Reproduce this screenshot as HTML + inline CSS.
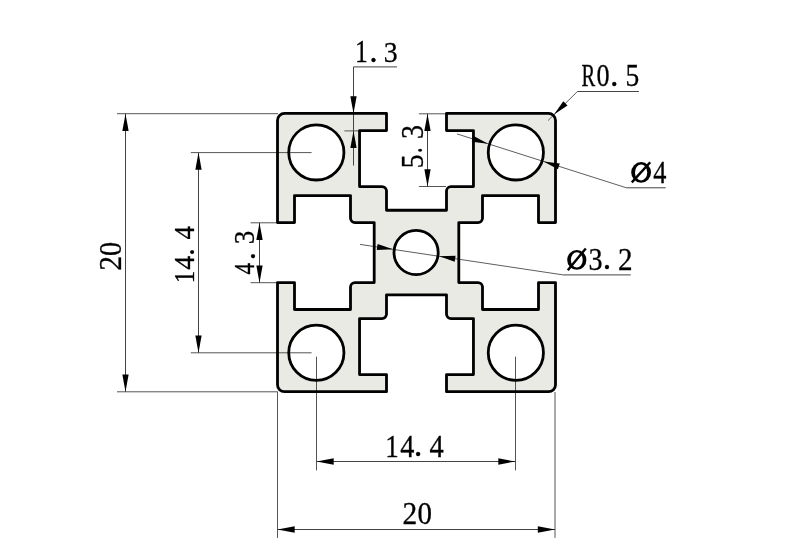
<!DOCTYPE html>
<html><head><meta charset="utf-8"><title>Aluminium profile 2020</title><style>
html,body{margin:0;padding:0;background:#fff;}
svg{display:block;will-change:transform;}
.pf{fill:#eaeae5;stroke:none;}
.hf{fill:#fff;stroke:none;}
.ps{fill:none;stroke:#000;stroke-width:2.8;stroke-linejoin:round;}
.ln{stroke:#444;stroke-width:1;fill:none;}
.ex{stroke:#555;stroke-width:1;fill:none;}
.ld{stroke:#555;stroke-width:0.95;fill:none;}
.ar{fill:#000;stroke:none;}
.tx{font-family:"Liberation Serif",serif;fill:#000;stroke:#000;stroke-width:0.3;}
</style></head><body>
<svg width="804" height="557" viewBox="0 0 804 557">
<path class="pf" d="M284.5 113.4 H386.5 V130.55 H359.55 V186.55 H382 A4.5 4.5 0 0 1 386.5 191.05 V210.25 H446.5 V191.05 A4.5 4.5 0 0 1 451 186.55 H473.45 V130.55 H446.5 V113.4 H548.5 A7 7 0 0 1 555.5 120.4 V222.55 H538.5 V195.6 H482.5 V218.05 A4.5 4.5 0 0 1 478 222.55 H458.8 V282.55 H478 A4.5 4.5 0 0 1 482.5 287.05 V309.5 H538.5 V282.55 H555.5 V384.7 A7 7 0 0 1 548.5 391.7 H446.5 V374.55 H473.45 V318.55 H451 A4.5 4.5 0 0 1 446.5 314.05 V294.85 H386.5 V314.05 A4.5 4.5 0 0 1 382 318.55 H359.55 V374.55 H386.5 V391.7 H284.5 A7 7 0 0 1 277.5 384.7 V282.55 H294.5 V309.5 H350.5 V287.05 A4.5 4.5 0 0 1 355 282.55 H374.2 V222.55 H355 A4.5 4.5 0 0 1 350.5 218.05 V195.6 H294.5 V222.55 H277.5 V120.4 A7 7 0 0 1 284.5 113.4 Z"/><circle class="hf" cx="316.35" cy="152.4" r="27.6"/><circle class="hf" cx="515.85" cy="152.4" r="27.6"/><circle class="hf" cx="316.35" cy="352.8" r="27.6"/><circle class="hf" cx="515.85" cy="352.8" r="27.6"/><circle class="hf" cx="416.1" cy="252.5" r="22.1"/>
<path class="ex" d="M117 113.7 L278 113.7"/>
<path class="ex" d="M117 391.8 L278 391.8"/>
<path class="ex" d="M190.8 152.6 L311.6 152.6"/>
<path class="ex" d="M190.8 352.8 L311.6 352.8"/>
<path class="ex" d="M250.6 222.8 L278 222.8"/>
<path class="ex" d="M250.6 282.7 L278 282.7"/>
<path class="ex" d="M344.4 130.9 L359 130.9"/>
<path class="ex" d="M418.9 113.8 L446 113.8"/>
<path class="ex" d="M418.9 186.5 L446 186.5"/>
<path class="ex" d="M316.5 356.6 L316.5 470.4"/>
<path class="ex" d="M515.5 356.6 L515.5 470.4"/>
<path class="ex" d="M277.5 392 L277.5 537.9"/>
<path class="ex" d="M555 392 L555 537.9"/>
<path class="ln" d="M125.5 113.7 L125.5 391.8"/>
<path class="ln" d="M198.5 152.6 L198.5 352.8"/>
<path class="ln" d="M259.5 222.8 L259.5 282.7"/>
<path class="ln" d="M353.5 66.9 L397 66.9"/>
<path class="ln" d="M353.5 66.9 L353.5 165.5"/>
<path class="ln" d="M427.5 113.8 L427.5 186.5"/>
<path class="ln" d="M316.5 461.5 L515.5 461.5"/>
<path class="ln" d="M277.5 529.5 L555 529.5"/>
<path class="ld" d="M548 120.6 L577.4 91.5"/>
<path class="ln" d="M577.4 91.5 L638.9 91.5"/>
<path class="ld" d="M457 133.9 L626.4 187.8"/>
<path class="ln" d="M626.4 187.8 L665.7 187.8"/>
<path class="ld" d="M360 244.4 L563.1 274.9"/>
<path class="ln" d="M563.1 274.9 L630.7 274.9"/>
<path class="ps" d="M284.5 113.4 H386.5 V130.55 H359.55 V186.55 H382 A4.5 4.5 0 0 1 386.5 191.05 V210.25 H446.5 V191.05 A4.5 4.5 0 0 1 451 186.55 H473.45 V130.55 H446.5 V113.4 H548.5 A7 7 0 0 1 555.5 120.4 V222.55 H538.5 V195.6 H482.5 V218.05 A4.5 4.5 0 0 1 478 222.55 H458.8 V282.55 H478 A4.5 4.5 0 0 1 482.5 287.05 V309.5 H538.5 V282.55 H555.5 V384.7 A7 7 0 0 1 548.5 391.7 H446.5 V374.55 H473.45 V318.55 H451 A4.5 4.5 0 0 1 446.5 314.05 V294.85 H386.5 V314.05 A4.5 4.5 0 0 1 382 318.55 H359.55 V374.55 H386.5 V391.7 H284.5 A7 7 0 0 1 277.5 384.7 V282.55 H294.5 V309.5 H350.5 V287.05 A4.5 4.5 0 0 1 355 282.55 H374.2 V222.55 H355 A4.5 4.5 0 0 1 350.5 218.05 V195.6 H294.5 V222.55 H277.5 V120.4 A7 7 0 0 1 284.5 113.4 Z"/><circle class="ps" cx="316.35" cy="152.4" r="27.6"/><circle class="ps" cx="515.85" cy="152.4" r="27.6"/><circle class="ps" cx="316.35" cy="352.8" r="27.6"/><circle class="ps" cx="515.85" cy="352.8" r="27.6"/><circle class="ps" cx="416.1" cy="252.5" r="22.1"/>
<path class="ar" d="M125.5 113.7 L122.35 130.9 L128.65 130.9 Z"/>
<path class="ar" d="M125.5 391.8 L128.65 374.6 L122.35 374.6 Z"/>
<path class="ar" d="M198.5 152.6 L195.35 169.8 L201.65 169.8 Z"/>
<path class="ar" d="M198.5 352.8 L201.65 335.6 L195.35 335.6 Z"/>
<path class="ar" d="M259.5 222.8 L256.35 240 L262.65 240 Z"/>
<path class="ar" d="M259.5 282.7 L262.65 265.5 L256.35 265.5 Z"/>
<path class="ar" d="M353.5 113.5 L356.65 96.3 L350.35 96.3 Z"/>
<path class="ar" d="M353.5 130.9 L350.35 148.1 L356.65 148.1 Z"/>
<path class="ar" d="M427.5 113.8 L424.35 131 L430.65 131 Z"/>
<path class="ar" d="M427.5 186.5 L430.65 169.3 L424.35 169.3 Z"/>
<path class="ar" d="M316.5 461.5 L333.7 464.65 L333.7 458.35 Z"/>
<path class="ar" d="M515.5 461.5 L498.3 458.35 L498.3 464.65 Z"/>
<path class="ar" d="M277.5 529.5 L294.7 532.65 L294.7 526.35 Z"/>
<path class="ar" d="M555 529.5 L537.8 526.35 L537.8 532.65 Z"/>
<path class="ar" d="M554 114.5 L567.51 105.42 L563.31 101.14 Z"/>
<path class="ar" d="M488 143.76 L473.66 136.05 L471.84 141.77 Z"/>
<path class="ar" d="M543.6 161.45 L557.94 169.16 L559.76 163.45 Z"/>
<path class="ar" d="M393 249.36 L377.62 244.01 L376.73 249.95 Z"/>
<path class="ar" d="M439.3 256.31 L454.68 261.65 L455.57 255.72 Z"/>
<text class="tx" font-size="30" transform="translate(355.05 62.3) scale(0.8523 1.0202)">1</text>
<text class="tx" font-size="30" transform="translate(369.26 61.83) scale(1.1299 1.1299)">.</text>
<text class="tx" font-size="30" transform="translate(383.76 62.3) scale(0.9282 1.0070)">3</text>
<text class="tx" font-size="30" transform="translate(581.4 86.4) scale(0.6855 1.0382)">R</text>
<text class="tx" font-size="30" transform="translate(596.51 86.4) scale(0.8726 1.0226)">0</text>
<text class="tx" font-size="30" transform="translate(609.96 85.93) scale(1.1299 1.1299)">.</text>
<text class="tx" font-size="30" transform="translate(625.4 86.4) scale(0.9181 1.0229)">5</text>
<text class="tx" font-size="30" transform="translate(653.27 182.8) scale(0.8764 1.0486)">4</text>
<text class="tx" font-size="30" transform="translate(588.45 269.7) scale(0.9362 1.0322)">3</text>
<text class="tx" font-size="30" transform="translate(602.76 269.13) scale(1.1299 1.1299)">.</text>
<text class="tx" font-size="30" transform="translate(618.02 269.6) scale(0.9726 1.0222)">2</text>
<text class="tx" font-size="30" transform="translate(385.32 456.7) scale(0.8996 1.0354)">1</text>
<text class="tx" font-size="30" transform="translate(400.34 456.7) scale(0.9411 1.0385)">4</text>
<text class="tx" font-size="30" transform="translate(413.81 456.21) scale(1.1582 1.1582)">.</text>
<text class="tx" font-size="30" transform="translate(429.43 456.7) scale(0.9483 1.0385)">4</text>
<text class="tx" font-size="30" transform="translate(402.61 524.4) scale(0.9809 1.0222)">2</text>
<text class="tx" font-size="30" transform="translate(417.6 524.4) scale(0.9670 1.0175)">0</text>
<text class="tx" font-size="30" transform="translate(121.1 270.71) rotate(-90) scale(0.9892 1.0322)">2</text>
<text class="tx" font-size="30" transform="translate(121.1 255.88) rotate(-90) scale(0.9434 1.0276)">0</text>
<text class="tx" font-size="30" transform="translate(194.3 283.33) rotate(-90) scale(0.8428 0.9899)">1</text>
<text class="tx" font-size="30" transform="translate(194.3 269.76) rotate(-90) scale(0.9339 0.9929)">4</text>
<text class="tx" font-size="30" transform="translate(193.87 255.81) rotate(-90) scale(1.0169 1.0169)">.</text>
<text class="tx" font-size="30" transform="translate(194.3 239.54) rotate(-90) scale(0.8980 0.9929)">4</text>
<text class="tx" font-size="30" transform="translate(254 274.46) rotate(-90) scale(0.7687 1.0030)">4</text>
<text class="tx" font-size="30" transform="translate(254.53 260.18) rotate(-90) scale(1.1017 1.1299)">.</text>
<text class="tx" font-size="30" transform="translate(254 244.3) rotate(-90) scale(0.9040 1.0070)">3</text>
<text class="tx" font-size="30" transform="translate(423.2 168.21) rotate(-90) scale(0.9264 1.0433)">5</text>
<text class="tx" font-size="30" transform="translate(422.26 153.27) rotate(-90) scale(0.7910 1.0452)">.</text>
<text class="tx" font-size="30" transform="translate(423.2 139.05) rotate(-90) scale(0.9362 1.0423)">3</text>
<ellipse cx="641.1" cy="172.45" rx="9.9" ry="10.35" fill="#000"/><ellipse cx="641.1" cy="172.45" rx="6.1" ry="7.95" fill="#fff"/><path d="M631.8 182.4 L650.2 162.2" stroke="#000" stroke-width="2.4"/>
<ellipse cx="576.8" cy="259.9" rx="9.6" ry="9.9" fill="#000"/><ellipse cx="576.8" cy="259.9" rx="5.9" ry="7.6" fill="#fff"/><path d="M567.8 270.2 L585.8 248.4" stroke="#000" stroke-width="2.4"/>
</svg>
</body></html>
